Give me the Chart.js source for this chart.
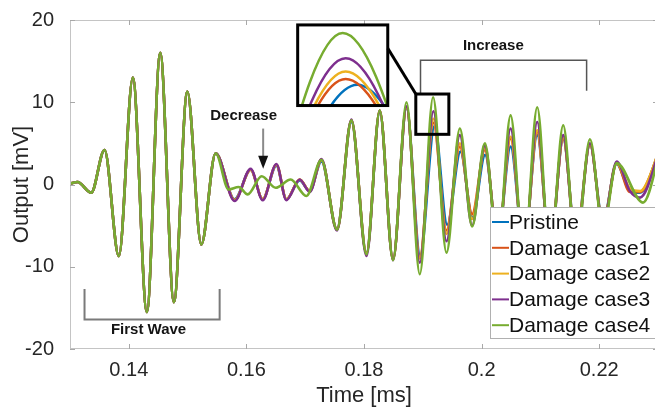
<!DOCTYPE html>
<html>
<head>
<meta charset="utf-8">
<script src="https://cdn.jsdelivr.net/npm/chart.js@4.4.1/dist/chart.umd.min.js"></script>
<style>
  html, body { margin: 0; padding: 0; background: #fff; overflow: hidden; }
  #wrap { width: 660px; height: 407px; }
</style>
</head>
<body>
<div id="wrap"><canvas id="signalChart" width="660" height="407"></canvas></div>
<script>
// Time in ms, output in mV. Each trace is stored by its crests and troughs.
const firstWaveTime = [0.1300, 0.13128, 0.13361, 0.13587, 0.13831, 0.14069, 0.14307, 0.14535, 0.14767, 0.14995, 0.15233, 0.15477];
const firstWaveOutput = [0.1, 0.3, -1.0, 4.2, -8.7, 13.0, -15.5, 16.0, -14.3, 11.3, -7.3, 3.8];

const tailTime = [0.15800, 0.16072, 0.16277, 0.16510, 0.16680, 0.16906, 0.17077, 0.17276, 0.17541, 0.17786,
  0.18042, 0.18268, 0.18494, 0.18723, 0.18949, 0.19180, 0.19403, 0.19630, 0.19839, 0.20055,
  0.20277, 0.20493, 0.20719, 0.20946, 0.21162, 0.21388, 0.21604, 0.21843, 0.22064, 0.22297,
  0.22523, 0.22694, 0.23068];
const pristineTime = [0.15800, 0.16072, 0.16277, 0.16510, 0.16680, 0.16906, 0.17077, 0.17276, 0.17541, 0.17786,
  0.18042, 0.18268, 0.18494, 0.18723, 0.18955, 0.19200, 0.19415, 0.19640, 0.19845, 0.20060,
  0.20277, 0.20493, 0.20719, 0.20946, 0.21162, 0.21388, 0.21604, 0.21843, 0.22064, 0.22297,
  0.22523, 0.22694, 0.23068];
const case4Time = [0.15698, 0.15868, 0.16021, 0.16260, 0.16498, 0.16753, 0.17020, 0.17276, 0.17541, 0.17786,
  0.18042, 0.18268, 0.18494, 0.18723, 0.18949, 0.19175, 0.19403, 0.19630, 0.19839, 0.20055,
  0.20277, 0.20493, 0.20719, 0.20946, 0.21162, 0.21388, 0.21604, 0.21843, 0.22064, 0.22297,
  0.22745, 0.23068];

const pristineOutput = [-1.8, 1.8, -1.8, 2.3, -1.8, 0.5, -0.8, 2.8, -5.4, 7.6,
  -8.3, 8.8, -9.0, 9.3, -8.6, 7.1, -4.9, 4.0, -4.0, 3.6,
  -6.5, 4.6, -7.5, 6.0, -7.5, 5.5, -6.5, 4.8, -4.5, 2.5,
  -0.8, -1.0, 5.0];
const case1Output = [-1.9, 1.8, -1.8, 2.4, -1.8, 0.6, -0.8, 3.0, -5.5, 7.8,
  -8.4, 9.0, -9.1, 9.4, -8.9, 7.5, -5.6, 4.6, -3.6, 4.2,
  -6.8, 5.6, -7.8, 6.4, -7.8, 5.6, -6.8, 4.9, -4.8, 2.6,
  -0.9, -0.9, 5.0];
const case2Output = [-1.9, 1.8, -1.8, 2.4, -1.8, 0.6, -0.8, 3.0, -5.5, 7.8,
  -8.4, 9.0, -9.1, 9.4, -9.0, 8.0, -6.0, 5.0, -4.2, 4.4,
  -7.0, 5.8, -8.0, 6.6, -8.0, 5.7, -7.0, 4.9, -4.8, 2.6,
  -0.5, -0.8, 5.0];
const case3Output = [-2.0, 1.9, -1.9, 2.5, -1.9, 0.6, -0.9, 3.1, -5.6, 7.9,
  -8.7, 9.0, -9.2, 9.5, -9.5, 8.9, -6.9, 6.0, -5.0, 4.7,
  -7.5, 6.8, -8.5, 7.6, -8.5, 6.0, -7.5, 5.0, -5.0, 2.8,
  -0.8, -1.6, 5.0];
const case4Output = [-0.6, -0.3, -1.2, 1.0, -0.4, 0.6, -1.4, 3.0, -5.5, 7.8,
  -8.5, 9.0, -9.2, 10.0, -10.9, 10.6, -8.3, 6.8, -5.1, 5.0,
  -8.0, 8.4, -9.0, 9.4, -9.0, 7.2, -8.0, 5.5, -5.5, 2.6,
  -2.2, 5.0];

const seriesLabels = ['Pristine', 'Damage case1', 'Damage case2', 'Damage case3', 'Damage case4'];
const seriesColors = ['#0072BD', '#D95319', '#EDB120', '#7E2F8E', '#77AC30'];
const xTicks = [0.14, 0.16, 0.18, 0.2, 0.22];
const yTicks = [-20, -10, 0, 10, 20];

const FONT = "'Liberation Sans', Arial, sans-serif";

function trace(times, values) {
  const pts = firstWaveTime.map((t, i) => ({ x: t, y: firstWaveOutput[i] }));
  return pts.concat(times.map((t, i) => ({ x: t, y: values[i] })));
}

const traces = [
  trace(pristineTime, pristineOutput),
  trace(tailTime, case1Output),
  trace(tailTime, case2Output),
  trace(tailTime, case3Output),
  trace(case4Time, case4Output)
];

// annotation anchors in data units (ms, mV)
const notes = {
  firstWave: { t0: 0.13247, t1: 0.15545, top: -12.7, bottom: -16.4, labelT: 0.14336, labelY: -17.7 },
  decrease: { labelT: 0.15953, labelY: 8.3, t: 0.16285, shaftTop: 6.8, headTop: 3.5, tip: 1.9 },
  increase: { labelT: 0.2020, labelY: 16.9, t0: 0.18961, t1: 0.21786, top: 15.1, leftEnd: 11.0, rightEnd: 11.4 },
  zoomBox: { t0: 0.18881, t1: 0.19443, top: 11.0, bottom: 6.1 },
  inset: { t0: 0.16872, t1: 0.18404, top: 19.4, bottom: 9.6 },
  // data window shown inside the inset
  insetView: { t0: 0.19098, t1: 0.19252, top: 11.15, bottom: 5.7 }
};

function line(ctx, pts) {
  ctx.beginPath();
  ctx.moveTo(pts[0][0], pts[0][1]);
  for (let i = 1; i < pts.length; i++) ctx.lineTo(pts[i][0], pts[i][1]);
  ctx.stroke();
}

function drawFrame(chart) {
  const { ctx, chartArea: a, scales: { x, y } } = chart;
  ctx.save();
  ctx.strokeStyle = '#c4c4c4';
  ctx.lineWidth = 1;
  ctx.strokeRect(a.left + 0.5, a.top + 0.5, a.right - a.left - 1, a.bottom - a.top - 1);
  ctx.strokeStyle = '#a8a8a8';
  xTicks.forEach(v => {
    const px = Math.round(x.getPixelForValue(v)) + 0.5;
    line(ctx, [[px, a.bottom], [px, a.bottom - 5]]);
    line(ctx, [[px, a.top], [px, a.top + 5]]);
  });
  yTicks.forEach(v => {
    const py = Math.round(y.getPixelForValue(v)) + 0.5;
    line(ctx, [[a.left, py], [a.left + 5, py]]);
    line(ctx, [[a.right, py], [a.right - 5, py]]);
  });
  ctx.restore();
}

function drawNotes(chart) {
  const { ctx, scales: { x, y } } = chart;
  const X = v => x.getPixelForValue(v), Y = v => y.getPixelForValue(v);
  ctx.save();
  ctx.font = 'bold 15px ' + FONT;
  ctx.fillStyle = '#141414';
  ctx.textAlign = 'center';
  ctx.textBaseline = 'middle';

  // first wave bracket
  const fw = notes.firstWave;
  ctx.strokeStyle = '#7a7a7a';
  ctx.lineWidth = 2;
  line(ctx, [[X(fw.t0), Y(fw.top)], [X(fw.t0), Y(fw.bottom)], [X(fw.t1), Y(fw.bottom)], [X(fw.t1), Y(fw.top)]]);
  ctx.fillText('First Wave', X(fw.labelT), Y(fw.labelY));

  // decrease arrow
  const dc = notes.decrease;
  ctx.fillText('Decrease', X(dc.labelT), Y(dc.labelY));
  ctx.strokeStyle = '#8a8a8a';
  ctx.lineWidth = 2;
  line(ctx, [[X(dc.t), Y(dc.shaftTop)], [X(dc.t), Y(dc.headTop) + 2]]);
  ctx.fillStyle = '#111';
  ctx.beginPath();
  ctx.moveTo(X(dc.t) - 5, Y(dc.headTop));
  ctx.lineTo(X(dc.t) + 5, Y(dc.headTop));
  ctx.lineTo(X(dc.t), Y(dc.tip));
  ctx.closePath();
  ctx.fill();

  // increase bracket
  const inc = notes.increase;
  ctx.fillStyle = '#141414';
  ctx.fillText('Increase', X(inc.labelT), Y(inc.labelY));
  ctx.strokeStyle = '#555';
  ctx.lineWidth = 1.5;
  line(ctx, [[X(inc.t0), Y(inc.leftEnd)], [X(inc.t0), Y(inc.top)], [X(inc.t1), Y(inc.top)], [X(inc.t1), Y(inc.rightEnd)]]);
  ctx.restore();
}

function drawInset(chart) {
  const { ctx, scales: { x, y } } = chart;
  const zb = notes.zoomBox, ib = notes.inset, iv = notes.insetView;
  const box = b => ({ l: x.getPixelForValue(b.t0), r: x.getPixelForValue(b.t1), t: y.getPixelForValue(b.top), b: y.getPixelForValue(b.bottom) });
  const s = box(iv), d = box(ib), z = box(zb);
  const map = (px, py) => [d.l + (px - s.l) * (d.r - d.l) / (s.r - s.l), d.t + (py - s.t) * (d.b - d.t) / (s.b - s.t)];

  ctx.save();
  ctx.fillStyle = '#fff';
  ctx.fillRect(d.l, d.t, d.r - d.l, d.b - d.t);
  ctx.beginPath();
  ctx.rect(d.l, d.t, d.r - d.l, d.b - d.t);
  ctx.clip();
  ctx.lineWidth = 2.5;
  // same drawing order as the main plot: pristine first, case4 on top
  for (let i = 0; i < chart.data.datasets.length; i++) {
    const pts = chart.getDatasetMeta(i).data;
    ctx.strokeStyle = seriesColors[i];
    ctx.beginPath();
    pts.forEach((p, k) => {
      const q = map(p.x, p.y);
      if (k === 0) { ctx.moveTo(q[0], q[1]); return; }
      const prev = pts[k - 1];
      const c1 = map(prev.cp2x, prev.cp2y), c2 = map(p.cp1x, p.cp1y);
      ctx.bezierCurveTo(c1[0], c1[1], c2[0], c2[1], q[0], q[1]);
    });
    ctx.stroke();
  }
  ctx.restore();

  ctx.save();
  ctx.strokeStyle = '#000';
  ctx.lineWidth = 3;
  ctx.strokeRect(d.l, d.t, d.r - d.l, d.b - d.t);
  ctx.strokeRect(z.l, z.t, z.r - z.l, z.b - z.t);
  line(ctx, [[d.r, d.t + (d.b - d.t) * 0.29], [z.l, z.t]]);
  ctx.restore();
}

function drawLegend(chart) {
  const { ctx, chartArea: a } = chart;
  const box = { l: 490, t: 207, r: a.right - 1, b: 338 };
  ctx.save();
  ctx.fillStyle = '#fff';
  ctx.fillRect(box.l, box.t, box.r - box.l, box.b - box.t);
  ctx.strokeStyle = '#b0b0b0';
  ctx.lineWidth = 1;
  ctx.strokeRect(box.l + 0.5, box.t + 0.5, box.r - box.l, box.b - box.t);
  ctx.font = '21px ' + FONT;
  ctx.textBaseline = 'middle';
  ctx.textAlign = 'left';
  seriesLabels.forEach((lab, i) => {
    const ry = box.t + 15 + i * 25.8;
    ctx.strokeStyle = seriesColors[i];
    ctx.lineWidth = 2;
    line(ctx, [[box.l + 2, ry], [box.l + 19, ry]]);
    ctx.fillStyle = '#111';
    ctx.fillText(lab, box.l + 19, ry + 1);
  });
  ctx.restore();
}

const overlay = {
  id: 'overlay',
  afterDraw(chart) {
    drawFrame(chart);
    drawNotes(chart);
    drawInset(chart);
    drawLegend(chart);
  }
};

new Chart(document.getElementById('signalChart'), {
  type: 'line',
  data: {
    datasets: traces.map((pts, i) => ({
      label: seriesLabels[i],
      data: pts,
      borderColor: seriesColors[i],
      borderWidth: 2.6,
      pointRadius: 0,
      fill: false,
      cubicInterpolationMode: 'monotone',
      order: seriesLabels.length - i
    }))
  },
  options: {
    responsive: false,
    animation: false,
    events: [],
    layout: { padding: { top: 15, right: 2, left: 0, bottom: 0 } },
    plugins: { legend: { display: false }, tooltip: { enabled: false } },
    scales: {
      x: {
        type: 'linear',
        min: 0.13,
        max: 0.23,
        afterBuildTicks: s => { s.ticks = xTicks.map(v => ({ value: v })); },
        afterFit: s => { s.height = 58; },
        grid: { display: false },
        border: { display: false },
        ticks: {
          padding: 1,
          maxRotation: 0,
          color: '#262626',
          font: { family: FONT, size: 20 },
          callback: v => String(+v.toFixed(2))
        },
        title: { display: true, text: 'Time [ms]', color: '#262626', font: { family: FONT, size: 22, lineHeight: 1 }, padding: { top: 0, bottom: 0 } }
      },
      y: {
        type: 'linear',
        min: -20,
        max: 20,
        afterBuildTicks: s => { s.ticks = yTicks.map(v => ({ value: v })); },
        afterFit: s => { s.width = 70; },
        grid: { display: false },
        border: { display: false },
        ticks: {
          padding: 8,
          color: '#262626',
          font: { family: FONT, size: 20 }
        },
        title: { display: true, text: 'Output [mV]', color: '#262626', font: { family: FONT, size: 22 }, padding: { top: 9, bottom: 0 } }
      }
    }
  },
  plugins: [overlay]
});
</script>
</body>
</html>
